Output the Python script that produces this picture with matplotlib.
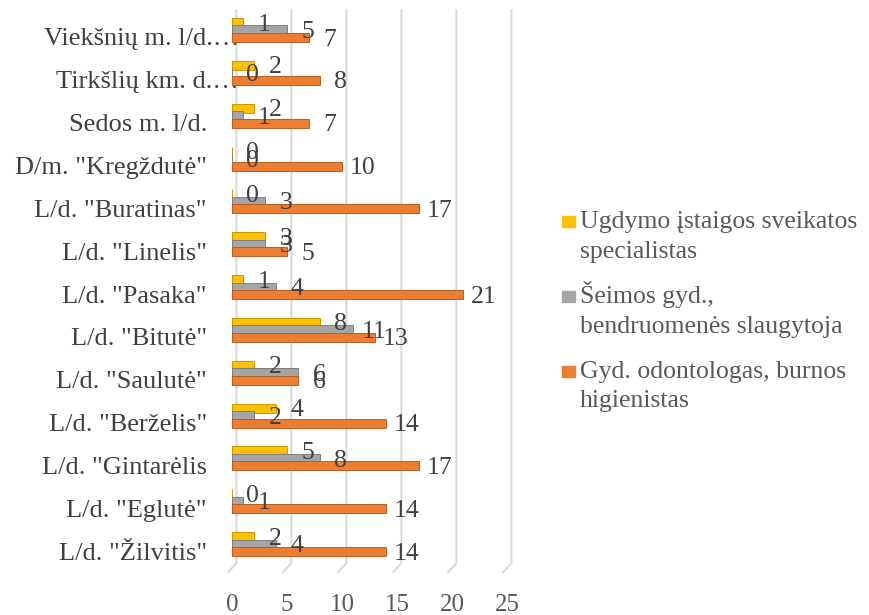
import matplotlib
matplotlib.use("Agg")
import matplotlib.pyplot as plt
import matplotlib.transforms as mtransforms
from matplotlib.patches import Rectangle

plt.rcParams['font.family'] = ['Liberation Serif', 'DejaVu Serif']

# Duomenys (iš viršaus į apačią)
categories = ['Viekšnių m. l/d.…', 'Tirkšlių km. d.…', 'Sedos m. l/d.', 'D/m. "Kregždutė"',
              'L/d. "Buratinas"', 'L/d. "Linelis"', 'L/d. "Pasaka"', 'L/d. "Bitutė"',
              'L/d. "Saulutė"', 'L/d. "Berželis"', 'L/d. "Gintarėlis', 'L/d. "Eglutė"',
              'L/d. "Žilvitis"']
ugdymo = [1, 2, 2, 0, 0, 3, 1, 8, 2, 4, 5, 0, 2]
seimos = [5, 0, 1, 0, 3, 3, 4, 11, 6, 2, 8, 1, 4]
odontologas = [7, 8, 7, 10, 17, 5, 21, 13, 6, 14, 17, 14, 14]

series_labels = [['Ugdymo įstaigos sveikatos', 'specialistas'],
                 ['Šeimos gyd.,', 'bendruomenės slaugytoja'],
                 ['Gyd. odontologas, burnos', 'higienistas']]
colors = ['#FFC000', '#A5A5A5', '#ED7D31']
edges = ['#C99700', '#7F7F7F', '#B85E1F']
xticks = [0, 5, 10, 15, 20, 25]

W, H = 870, 615
fig = plt.figure(figsize=(W / 100, H / 100), dpi=100)
ax = fig.add_axes([232 / W, 1 - 575 / H, 275 / W, 567 / H])

n = len(categories)
ypos = list(range(n))
bar_h = 0.21
offs = [-0.175, 0.0, 0.175]
all_series = [ugdymo, seimos, odontologas]

# gridlines (3D back wall + floor diagonal)
for v in xticks:
    ax.plot([v + 0.4, v + 0.4, v - 0.35], [0.996, 0.021, 0.005],
            transform=ax.get_xaxis_transform(), color='#D9D9D9', lw=1.5,
            clip_on=False, zorder=0)

for vals, off, c, ec in zip(all_series, offs, colors, edges):
    yy = [y + off for y in ypos]
    ax.barh(yy, vals, height=bar_h, color=c, edgecolor=ec, linewidth=0.7, zorder=2)
    for y, v in zip(yy, vals):
        ax.annotate(str(v), (v, y), xytext=(15, -1.5), textcoords='offset points',
                    ha='center', va='center', fontsize=18.5, color='#404040', zorder=3)

ax.set_xlim(0, 25)
ax.set_ylim(12.72, -0.513)
ax.set_xticks(xticks)
ax.set_yticks(ypos)
ax.set_yticklabels(categories, fontsize=19)
ax.tick_params(axis='both', length=0, labelsize=18, labelcolor='#404040')
ax.tick_params(axis='y', labelsize=19, pad=18)
ax.tick_params(axis='x', pad=14, labelcolor='#595959')
for lab in ax.get_yticklabels():
    dx = 23 / 72 if lab.get_text().endswith('…') else 0
    lab.set_transform(lab.get_transform() +
                      mtransforms.ScaledTranslation(dx, -7 / 100, fig.dpi_scale_trans))
for s in ax.spines.values():
    s.set_visible(False)
ax.patch.set_visible(False)

# legenda
baselines = [(228, 258), (303, 333), (378, 407)]
for lines, (b1, b2), c in zip(series_labels, baselines, colors):
    fig.patches.append(Rectangle((562 / W, 1 - (b1 - 1) / H), 13 / W, 11 / H,
                                 transform=fig.transFigure, color=c))
    fig.text(580 / W, 1 - b1 / H, lines[0], fontsize=18.5, color='#595959', va='baseline')
    fig.text(580 / W, 1 - b2 / H, lines[1], fontsize=18.5, color='#595959', va='baseline')

fig.savefig('out.png', dpi=100)
